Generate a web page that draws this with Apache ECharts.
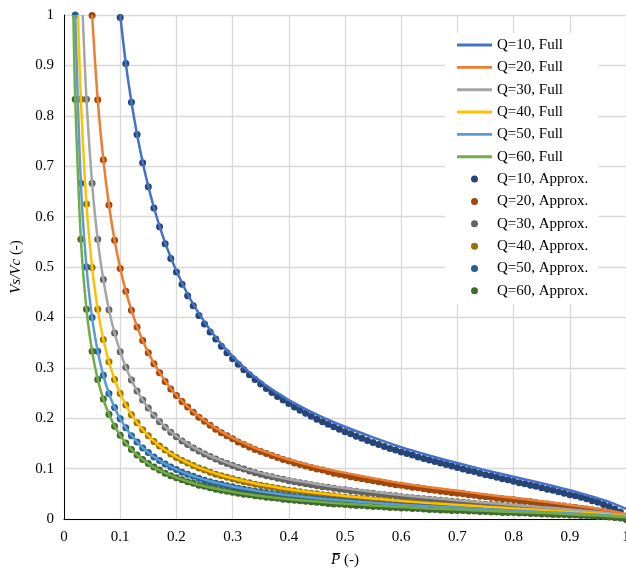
<!DOCTYPE html>
<html>
<head>
<meta charset="utf-8">
<script src="https://cdn.jsdelivr.net/npm/echarts@6/dist/echarts.min.js"></script>
<style>
html, body { margin: 0; padding: 0; background: #fff; overflow: hidden; }
#chart { width: 626px; height: 571px; }
</style>
</head>
<body>
<div id="chart"></div>
<script>
'use strict'

// Q values of the six curves
var qValues = [10, 20, 30, 40, 50, 60];

// P grid of the approximate points (0.02 .. 1.00)
var pGrid = [
    0.02, 0.03, 0.04, 0.05, 0.06, 0.07, 0.08, 0.09,
    0.10, 0.11, 0.12, 0.13, 0.14, 0.15, 0.16, 0.17, 0.18, 0.19,
    0.20, 0.21, 0.22, 0.23, 0.24, 0.25, 0.26, 0.27, 0.28, 0.29,
    0.30, 0.31, 0.32, 0.33, 0.34, 0.35, 0.36, 0.37, 0.38, 0.39,
    0.40, 0.41, 0.42, 0.43, 0.44, 0.45, 0.46, 0.47, 0.48, 0.49,
    0.50, 0.51, 0.52, 0.53, 0.54, 0.55, 0.56, 0.57, 0.58, 0.59,
    0.60, 0.61, 0.62, 0.63, 0.64, 0.65, 0.66, 0.67, 0.68, 0.69,
    0.70, 0.71, 0.72, 0.73, 0.74, 0.75, 0.76, 0.77, 0.78, 0.79,
    0.80, 0.81, 0.82, 0.83, 0.84, 0.85, 0.86, 0.87, 0.88, 0.89,
    0.90, 0.91, 0.92, 0.93, 0.94, 0.95, 0.96, 0.97, 0.98, 0.99,
    1.00
];

// Approx. points, each list ends at P = 1.00 (aligned to the tail of pGrid)
var approx10 = [
    0.995, 0.904, 0.827, 0.763, 0.707, 0.659, 0.617, 0.580, 0.546, 0.517,
    0.490, 0.466, 0.443, 0.423, 0.404, 0.387, 0.371, 0.357, 0.343, 0.330,
    0.318, 0.307, 0.296, 0.286, 0.277, 0.268, 0.259, 0.251, 0.243, 0.236,
    0.229, 0.222, 0.216, 0.210, 0.204, 0.198, 0.193, 0.188, 0.183, 0.178,
    0.173, 0.169, 0.164, 0.160, 0.156, 0.152, 0.148, 0.144, 0.140, 0.137,
    0.133, 0.130, 0.127, 0.123, 0.120, 0.117, 0.114, 0.111, 0.108, 0.105,
    0.102, 0.099, 0.096, 0.094, 0.091, 0.088, 0.086, 0.083, 0.080, 0.078,
    0.075, 0.072, 0.070, 0.067, 0.065, 0.062, 0.059, 0.057, 0.054, 0.051,
    0.048, 0.046, 0.043, 0.040, 0.036, 0.033, 0.029, 0.025, 0.020, 0.014,
    0
];
var approx20 = [
    0.999, 0.832, 0.713, 0.623, 0.553,
    0.497, 0.452, 0.414, 0.381, 0.354, 0.330, 0.308, 0.290, 0.273, 0.258,
    0.245, 0.233, 0.222, 0.212, 0.202, 0.194, 0.186, 0.178, 0.171, 0.165,
    0.159, 0.153, 0.148, 0.143, 0.138, 0.134, 0.130, 0.126, 0.122, 0.118,
    0.115, 0.111, 0.108, 0.105, 0.102, 0.099, 0.097, 0.094, 0.091, 0.089,
    0.087, 0.084, 0.082, 0.080, 0.078, 0.076, 0.074, 0.072, 0.070, 0.068,
    0.067, 0.065, 0.063, 0.062, 0.060, 0.058, 0.057, 0.055, 0.054, 0.052,
    0.051, 0.050, 0.048, 0.047, 0.045, 0.044, 0.043, 0.041, 0.040, 0.039,
    0.038, 0.036, 0.035, 0.034, 0.032, 0.031, 0.030, 0.028, 0.027, 0.026,
    0.024, 0.023, 0.021, 0.020, 0.018, 0.016, 0.015, 0.013, 0.010, 0.007,
    0
];
var approx30 = [
    0.833, 0.666, 0.555, 0.475, 0.415, 0.369,
    0.332, 0.301, 0.276, 0.254, 0.236, 0.220, 0.206, 0.193, 0.182, 0.172,
    0.163, 0.155, 0.148, 0.141, 0.135, 0.129, 0.124, 0.119, 0.114, 0.110,
    0.106, 0.102, 0.099, 0.095, 0.092, 0.089, 0.086, 0.084, 0.081, 0.079,
    0.076, 0.074, 0.072, 0.070, 0.068, 0.066, 0.064, 0.063, 0.061, 0.059,
    0.058, 0.056, 0.055, 0.053, 0.052, 0.051, 0.049, 0.048, 0.047, 0.046,
    0.044, 0.043, 0.042, 0.041, 0.040, 0.039, 0.038, 0.037, 0.036, 0.035,
    0.034, 0.033, 0.032, 0.031, 0.030, 0.029, 0.029, 0.028, 0.027, 0.026,
    0.025, 0.024, 0.023, 0.022, 0.022, 0.021, 0.020, 0.019, 0.018, 0.017,
    0.016, 0.015, 0.014, 0.013, 0.012, 0.011, 0.010, 0.008, 0.007, 0.005,
    0
];
var approx40 = [
    0.833, 0.625, 0.499, 0.416, 0.356, 0.312, 0.277,
    0.249, 0.226, 0.207, 0.191, 0.177, 0.165, 0.154, 0.145, 0.137, 0.129,
    0.122, 0.116, 0.111, 0.106, 0.101, 0.097, 0.093, 0.089, 0.086, 0.083,
    0.080, 0.077, 0.074, 0.072, 0.069, 0.067, 0.065, 0.063, 0.061, 0.059,
    0.057, 0.056, 0.054, 0.052, 0.051, 0.050, 0.048, 0.047, 0.046, 0.044,
    0.043, 0.042, 0.041, 0.040, 0.039, 0.038, 0.037, 0.036, 0.035, 0.034,
    0.033, 0.032, 0.032, 0.031, 0.030, 0.029, 0.028, 0.028, 0.027, 0.026,
    0.026, 0.025, 0.024, 0.023, 0.023, 0.022, 0.021, 0.021, 0.020, 0.019,
    0.019, 0.018, 0.017, 0.017, 0.016, 0.015, 0.015, 0.014, 0.013, 0.013,
    0.012, 0.011, 0.011, 0.010, 0.009, 0.008, 0.007, 0.006, 0.005, 0.004,
    0
];
var approx50 = [
    1.000, 0.666, 0.500, 0.400, 0.333, 0.285, 0.249, 0.221,
    0.199, 0.181, 0.165, 0.153, 0.141, 0.132, 0.123, 0.116, 0.109, 0.103,
    0.098, 0.093, 0.089, 0.085, 0.081, 0.077, 0.074, 0.071, 0.069, 0.066,
    0.064, 0.061, 0.059, 0.057, 0.055, 0.054, 0.052, 0.050, 0.049, 0.047,
    0.046, 0.044, 0.043, 0.042, 0.041, 0.040, 0.039, 0.038, 0.037, 0.036,
    0.035, 0.034, 0.033, 0.032, 0.031, 0.030, 0.030, 0.029, 0.028, 0.027,
    0.027, 0.026, 0.025, 0.025, 0.024, 0.023, 0.023, 0.022, 0.022, 0.021,
    0.020, 0.020, 0.019, 0.019, 0.018, 0.018, 0.017, 0.017, 0.016, 0.016,
    0.015, 0.014, 0.014, 0.013, 0.013, 0.012, 0.012, 0.011, 0.011, 0.010,
    0.010, 0.009, 0.009, 0.008, 0.007, 0.007, 0.006, 0.005, 0.004, 0.003,
    0
];
var approx60 = [
    0.833, 0.555, 0.416, 0.333, 0.277, 0.238, 0.208, 0.184,
    0.166, 0.151, 0.138, 0.127, 0.118, 0.110, 0.103, 0.097, 0.091, 0.086,
    0.082, 0.078, 0.074, 0.071, 0.067, 0.065, 0.062, 0.059, 0.057, 0.055,
    0.053, 0.051, 0.049, 0.048, 0.046, 0.045, 0.043, 0.042, 0.041, 0.039,
    0.038, 0.037, 0.036, 0.035, 0.034, 0.033, 0.032, 0.031, 0.030, 0.030,
    0.029, 0.028, 0.027, 0.027, 0.026, 0.025, 0.025, 0.024, 0.023, 0.023,
    0.022, 0.022, 0.021, 0.021, 0.020, 0.019, 0.019, 0.018, 0.018, 0.017,
    0.017, 0.017, 0.016, 0.016, 0.015, 0.015, 0.014, 0.014, 0.013, 0.013,
    0.013, 0.012, 0.012, 0.011, 0.011, 0.010, 0.010, 0.009, 0.009, 0.009,
    0.008, 0.008, 0.007, 0.007, 0.006, 0.005, 0.005, 0.004, 0.003, 0.002,
    0
];

// P positions for the full curves, and where each curve leaves the top (Vs/Vc = 1)
var fullP = [
    0.02, 0.03, 0.04, 0.05, 0.06, 0.07, 0.08, 0.09,
    0.10, 0.11, 0.12, 0.13, 0.14, 0.15, 0.16, 0.17, 0.18, 0.19, 0.20,
    0.22, 0.24, 0.26, 0.28, 0.30, 0.32, 0.34, 0.36, 0.38, 0.40,
    0.45, 0.50, 0.55, 0.60, 0.65, 0.70, 0.75, 0.80, 0.85, 0.90, 0.95,
    0.97, 0.99, 1.00
];
var fullStart = [0.1, 0.05, 0.0333, 0.025, 0.02, 0.0167];

// full curves, each list ends at P = 1.00 (aligned to the tail of fullP)
var full10 = [
    0.904, 0.8275, 0.763, 0.708, 0.66, 0.618, 0.581, 0.548, 0.519, 0.4925,
    0.446, 0.408, 0.375, 0.347, 0.323, 0.301, 0.282, 0.265, 0.25, 0.236,
    0.207, 0.183, 0.162, 0.1425, 0.126, 0.111, 0.097, 0.084, 0.071, 0.057, 0.041,
    0.034, 0.025, 0.020
];
var full20 = [
    0.832, 0.713, 0.623, 0.553,
    0.4975, 0.452, 0.414, 0.382, 0.354, 0.33, 0.309, 0.291, 0.274, 0.259, 0.246,
    0.223, 0.204, 0.1875, 0.1735, 0.161, 0.151, 0.141, 0.133, 0.125, 0.118,
    0.103, 0.0915, 0.081, 0.071, 0.063, 0.056, 0.0487, 0.042, 0.035, 0.028, 0.0205,
    0.017, 0.0126, 0.010
];
var full30 = [
    0.8325, 0.666, 0.554, 0.475, 0.415, 0.369,
    0.332, 0.301, 0.276, 0.254, 0.236, 0.22, 0.206, 0.194, 0.183, 0.173, 0.164,
    0.149, 0.136, 0.125, 0.116, 0.1076, 0.100, 0.094, 0.0884, 0.0833, 0.0788,
    0.069, 0.061, 0.054, 0.0475, 0.042, 0.037, 0.0324, 0.028, 0.0235, 0.019, 0.0137,
    0.0113, 0.0084, 0.0067
];
var full40 = [
    0.833, 0.624, 0.4995, 0.416, 0.356, 0.3116, 0.2767,
    0.249, 0.226, 0.207, 0.191, 0.177, 0.165, 0.1545, 0.145, 0.137, 0.13, 0.123,
    0.1116, 0.102, 0.094, 0.0868, 0.0807, 0.0753, 0.0706, 0.0663, 0.0625, 0.059,
    0.0517, 0.0458, 0.0405, 0.0356, 0.0315, 0.0279, 0.0243, 0.021, 0.0177, 0.0142, 0.0103,
    0.0085, 0.0063, 0.005
];
var full50 = [
    0.667, 0.4995, 0.3996, 0.333, 0.285, 0.249, 0.221,
    0.199, 0.181, 0.1655, 0.153, 0.1416, 0.132, 0.1236, 0.116, 0.1097, 0.1038, 0.0985,
    0.0893, 0.0816, 0.075, 0.0694, 0.0645, 0.0603, 0.0565, 0.0531, 0.05, 0.0473,
    0.0413, 0.0366, 0.0324, 0.0285, 0.0252, 0.0223, 0.0195, 0.0168, 0.0141, 0.0113, 0.0082,
    0.0068, 0.005, 0.004
];
var full60 = [
    0.833, 0.5555, 0.416, 0.333, 0.277, 0.2376, 0.2077, 0.1845,
    0.1658, 0.1506, 0.138, 0.127, 0.118, 0.11, 0.103, 0.0969, 0.0914, 0.0865, 0.0821,
    0.0744, 0.068, 0.0625, 0.0579, 0.0538, 0.0502, 0.0471, 0.0442, 0.0417, 0.0394,
    0.0345, 0.0305, 0.027, 0.0238, 0.021, 0.0186, 0.0162, 0.014, 0.0118, 0.0095, 0.0068,
    0.0057, 0.0042, 0.0033
];

var approxSets = [approx10, approx20, approx30, approx40, approx50, approx60];
var fullSets = [full10, full20, full30, full40, full50, full60];

var lineColors = ['#4472c4', '#ed7d31', '#a5a5a5', '#ffc000', '#5b9bd5', '#70ad47'];
var dotColors = ['#264478', '#9e480e', '#636363', '#997300', '#255e91', '#43682b'];

var fontFamily = '"Liberation Serif", "Times New Roman", serif';

function tailPairs(xs, ys) {
    var off = xs.length - ys.length;
    return ys.map(function (v, i) { return [xs[off + i], v]; });
}

var series = [];
var legendFull = [];
var legendApprox = [];

qValues.forEach(function (q, k) {
    var name = 'Q=' + q + ', Full';
    legendFull.push({ name: name, icon: 'path://M0,0L36,0L36,3L0,3Z' });
    series.push({
        name: name,
        type: 'line',
        smooth: 0.3,
        showSymbol: false,
        symbol: 'none',
        data: [[fullStart[k], 1]].concat(tailPairs(fullP, fullSets[k])),
        itemStyle: { color: lineColors[k] },
        lineStyle: { width: 2.5, color: lineColors[k] }
    });
});

qValues.forEach(function (q, k) {
    var name = 'Q=' + q + ', Approx.';
    legendApprox.push({ name: name, icon: 'circle' });
    series.push({
        name: name,
        type: 'scatter',
        symbol: 'circle',
        symbolSize: 7,
        data: tailPairs(pGrid, approxSets[k]),
        itemStyle: { color: dotColors[k], opacity: 1 }
    });
});

var chart = echarts.init(document.getElementById('chart'));

var option = {
    animation: false,
    backgroundColor: '#fff',
    textStyle: { fontFamily: fontFamily },
    grid: {
        left: 64,
        width: 562,
        top: 15,
        height: 504,
        containLabel: false,
        outerBoundsMode: 'none'
    },
    legend: {
        data: legendFull.concat(legendApprox),
        orient: 'vertical',
        left: 445,
        top: 33,
        width: 158,
        padding: [4, 10, 5, 12],
        backgroundColor: '#fff',
        itemWidth: 35,
        itemHeight: 7,
        itemGap: 6.35,
        symbolKeepAspect: true,
        textStyle: {
            fontFamily: fontFamily,
            fontSize: 15,
            color: '#000',
            lineHeight: 16
        }
    },
    xAxis: {
        type: 'value',
        min: 0,
        max: 1,
        interval: 0.1,
        name: '{i|P\u0305} (-)',
        nameLocation: 'middle',
        nameGap: 34,
        nameTextStyle: {
            fontFamily: fontFamily,
            fontSize: 15,
            color: '#000',
            rich: {
                i: { fontFamily: fontFamily, fontSize: 15, fontStyle: 'italic', color: '#000' }
            }
        },
        axisLine: { show: true, lineStyle: { color: '#000', width: 1 } },
        axisTick: { show: false },
        axisLabel: {
            margin: 11,
            fontFamily: fontFamily,
            fontSize: 15,
            color: '#000'
        },
        splitLine: { show: true, lineStyle: { color: '#d9d9d9', width: 1.3 } }
    },
    yAxis: {
        type: 'value',
        min: 0,
        max: 1,
        interval: 0.1,
        name: '{i|Vs/Vc} (-)',
        nameLocation: 'middle',
        nameGap: 40,
        nameRotate: 90,
        nameTextStyle: {
            fontFamily: fontFamily,
            fontSize: 15,
            color: '#000',
            rich: {
                i: { fontFamily: fontFamily, fontSize: 15, fontStyle: 'italic', color: '#000' }
            }
        },
        axisLine: { show: true, lineStyle: { color: '#000', width: 1 } },
        axisTick: { show: false },
        axisLabel: {
            margin: 10,
            fontFamily: fontFamily,
            fontSize: 15,
            color: '#000'
        },
        splitLine: { show: true, lineStyle: { color: '#d9d9d9', width: 1.3 } }
    },
    series: series
};

chart.setOption(option);
</script>
</body>
</html>
